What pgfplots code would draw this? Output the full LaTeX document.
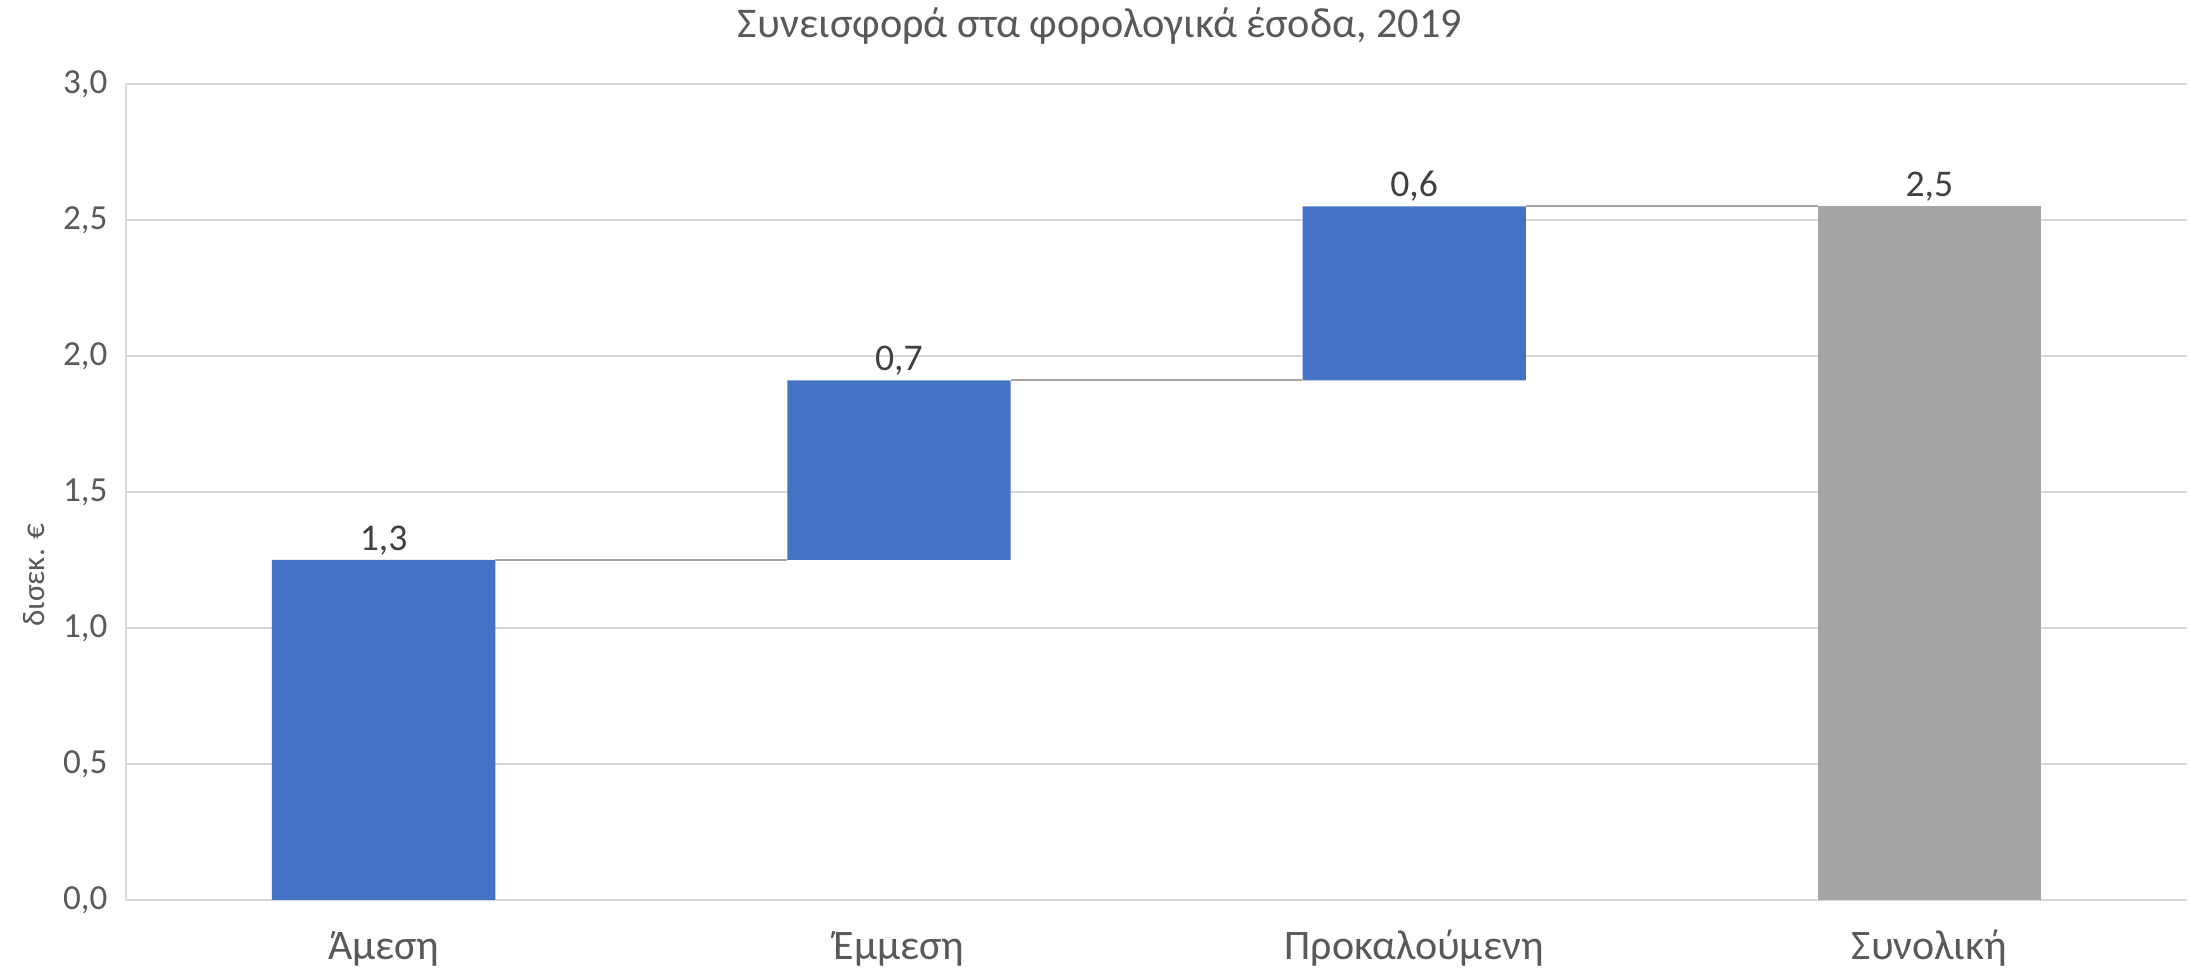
\documentclass[border=0pt]{standalone}
\usepackage{fontspec}
\setmainfont{Carlito}
\usepackage{pgfplots}
\pgfplotsset{compat=1.18}

\definecolor{barblue}{HTML}{4472C4}
\definecolor{bargray}{HTML}{A5A5A5}
\definecolor{gridgray}{HTML}{D9D9D9}
\definecolor{txtgray}{HTML}{595959}
\definecolor{lblgray}{HTML}{404040}

\pgfplotsset{
  wf/.style={
    scale only axis,
    width=721.35pt, height=285.6pt,
    xmin=-0.5, xmax=3.5, ymin=0, ymax=3,
    at={(0pt,0pt)}, anchor=south west,
  }
}

\begin{document}
\begin{tikzpicture}
\useasboundingbox (-44.1pt,-24.5pt) rectangle (726.25pt,315pt);

% bars (waterfall via stacked bars with an invisible base)
\begin{axis}[
  wf,
  ybar stacked,
  bar width=0.4333,
  axis lines*=left,
  axis line style={gridgray, line width=0.7pt},
  ymajorgrids,
  grid style={gridgray, line width=0.7pt},
  major tick length=0pt,
  ytick={0,0.5,...,3},
  xtick={0,1,2,3},
  xticklabels={Άμεση, Έμμεση, Προκαλούμενη, Συνολική},
  /pgf/number format/.cd, use comma, fixed, fixed zerofill, precision=1, assume math mode=true,
  /pgfplots/.cd,
  yticklabel style={font=\fontsize{12.3}{14}\selectfont, text=txtgray, anchor=east, inner sep=0pt, xshift=-6.3pt},
  xticklabel style={font=\fontsize{14.7}{16}\selectfont, text=txtgray, anchor=center, inner sep=0pt, yshift=-17pt},
  ylabel={δισεκ. €},
  ylabel style={font=\fontsize{10.9}{12}\selectfont, text=txtgray, at={(axis description cs:0,0.398)}, anchor=center, yshift=32.2pt},
  title={Συνεισφορά στα φορολογικά έσοδα, 2019},
  title style={font=\fontsize{14.8}{16}\selectfont, text=txtgray, at={(axis description cs:0.4726,1)}, anchor=center, yshift=14.2pt},
]
\addplot[fill=none, draw=none] coordinates {(0,0) (1,1.25) (2,1.91) (3,0)};
\addplot[fill=barblue, draw=none] coordinates {(0,1.25) (1,0.66) (2,0.64) (3,0)};
\addplot[fill=bargray, draw=none] coordinates {(0,0) (1,0) (2,0) (3,2.55)};
\end{axis}

% connectors and value labels
\begin{axis}[
  wf,
  hide axis,
  clip=false,
]
\addplot[bargray, line width=0.7pt] coordinates {(0.2167,1.25) (0.7833,1.25)};
\addplot[bargray, line width=0.7pt] coordinates {(1.2167,1.91) (1.7833,1.91)};
\addplot[bargray, line width=0.7pt] coordinates {(2.2167,2.55) (2.7833,2.55)};
\addplot[
  only marks, mark=none,
  point meta=explicit,
  nodes near coords,
  nodes near coords align={above},
  every node near coord/.append style={
    font=\fontsize{13.2}{15}\selectfont, text=lblgray, inner sep=1.5pt,
    /pgf/number format/.cd, use comma, fixed, fixed zerofill, precision=1, assume math mode=true},
] coordinates {(0,1.25)[1.3] (1,1.91)[0.7] (2,2.55)[0.6] (3,2.55)[2.5]};
\end{axis}
\end{tikzpicture}
\end{document}
